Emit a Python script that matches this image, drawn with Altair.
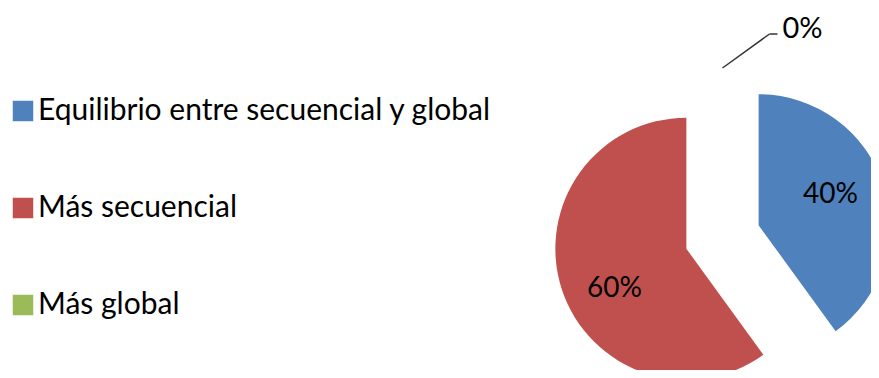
import altair as alt
import pandas as pd

categories = ["Equilibrio entre secuencial y global", "Más secuencial", "Más global"]
values = [40, 60, 0]
colors = ["#4F81BD", "#C0504D", "#9BBB59"]

df = pd.DataFrame({"category": categories, "value": values, "order": list(range(len(values)))})

W, H = 863, 362
CX, CY = 714.5, 229    # pie centre (view px)
R = 131                # radius
D = 38                 # explosion distance
LR = 80                # inside label distance from slice vertex
LA = -0.14             # inside label angular shift (rad)
FONT = "Lato"

base = (
    alt.Chart(df)
    .transform_window(cum="sum(value)", sort=[alt.SortField("order")], frame=[None, 0])
    .transform_joinaggregate(total="sum(value)")
    .transform_calculate(
        t0="(datum.cum - datum.value) / datum.total * 2 * PI",
        t1="datum.cum / datum.total * 2 * PI",
    )
    .transform_calculate(mid="(datum.t0 + datum.t1) / 2")
    .transform_calculate(
        cx=f"{CX} + {D} * sin(datum.mid)",
        cy=f"{CY} - {D} * cos(datum.mid)",
        label="format(datum.value / datum.total, '.0%')",
    )
    .transform_calculate(
        lx=f"datum.cx + {LR} * sin(datum.mid + {LA})",
        ly=f"datum.cy - {LR} * cos(datum.mid + {LA})",
        ox=f"datum.cx + {R} * sin(datum.mid)",
        oy=f"datum.cy - {R} * cos(datum.mid)",
    )
    .transform_calculate(
        kx="datum.ox + 47", ky="datum.oy - 34",
        hx="datum.ox + 55", tx="datum.ox + 60",
    )
)

arcs = base.mark_arc(radius=R, stroke=None).encode(
    theta=alt.Theta("t0:Q", scale=None),
    theta2="t1:Q",
    x=alt.X("cx:Q", scale=None, axis=None),
    y=alt.Y("cy:Q", scale=None, axis=None),
    color=alt.Color(
        "category:N",
        scale=alt.Scale(domain=categories, range=colors),
        legend=alt.Legend(
            title=None, orient="none", legendX=0, legendY=88,
            symbolType="square", symbolSize=420, symbolStrokeWidth=0,
            symbolOpacity=1, labelFontSize=30, labelFont=FONT, labelColor="#000000",
            labelOffset=0, rowPadding=67, labelLimit=0,
        ),
    ),
)

inside = base.transform_filter("datum.value > 0").mark_text(
    font=FONT, fontSize=28, color="#000000", align="center", baseline="middle", dy=5
).encode(
    x=alt.X("lx:Q", scale=None, axis=None),
    y=alt.Y("ly:Q", scale=None, axis=None),
    text="label:N",
)

zero = base.transform_filter("datum.value == 0")
lead1 = zero.mark_rule(color="#333333", strokeWidth=1.5).encode(
    x=alt.X("ox:Q", scale=None, axis=None), y=alt.Y("oy:Q", scale=None, axis=None),
    x2="kx:Q", y2="ky:Q",
)
lead2 = zero.mark_rule(color="#333333", strokeWidth=1.5).encode(
    x=alt.X("kx:Q", scale=None, axis=None), y=alt.Y("ky:Q", scale=None, axis=None),
    x2="hx:Q",
)
outside = zero.mark_text(
    font=FONT, fontSize=29, color="#000000", align="left", baseline="middle", dy=-5
).encode(
    x=alt.X("tx:Q", scale=None, axis=None),
    y=alt.Y("ky:Q", scale=None, axis=None),
    text="label:N",
)

chart = (
    alt.layer(arcs, inside, lead1, lead2, outside)
    .properties(width=W, height=H, autosize=alt.AutoSizeParams(type="none"), padding=0)
    .configure_view(stroke=None)
)

chart.save("out.html", embed_options={"renderer": "svg", "actions": False})
